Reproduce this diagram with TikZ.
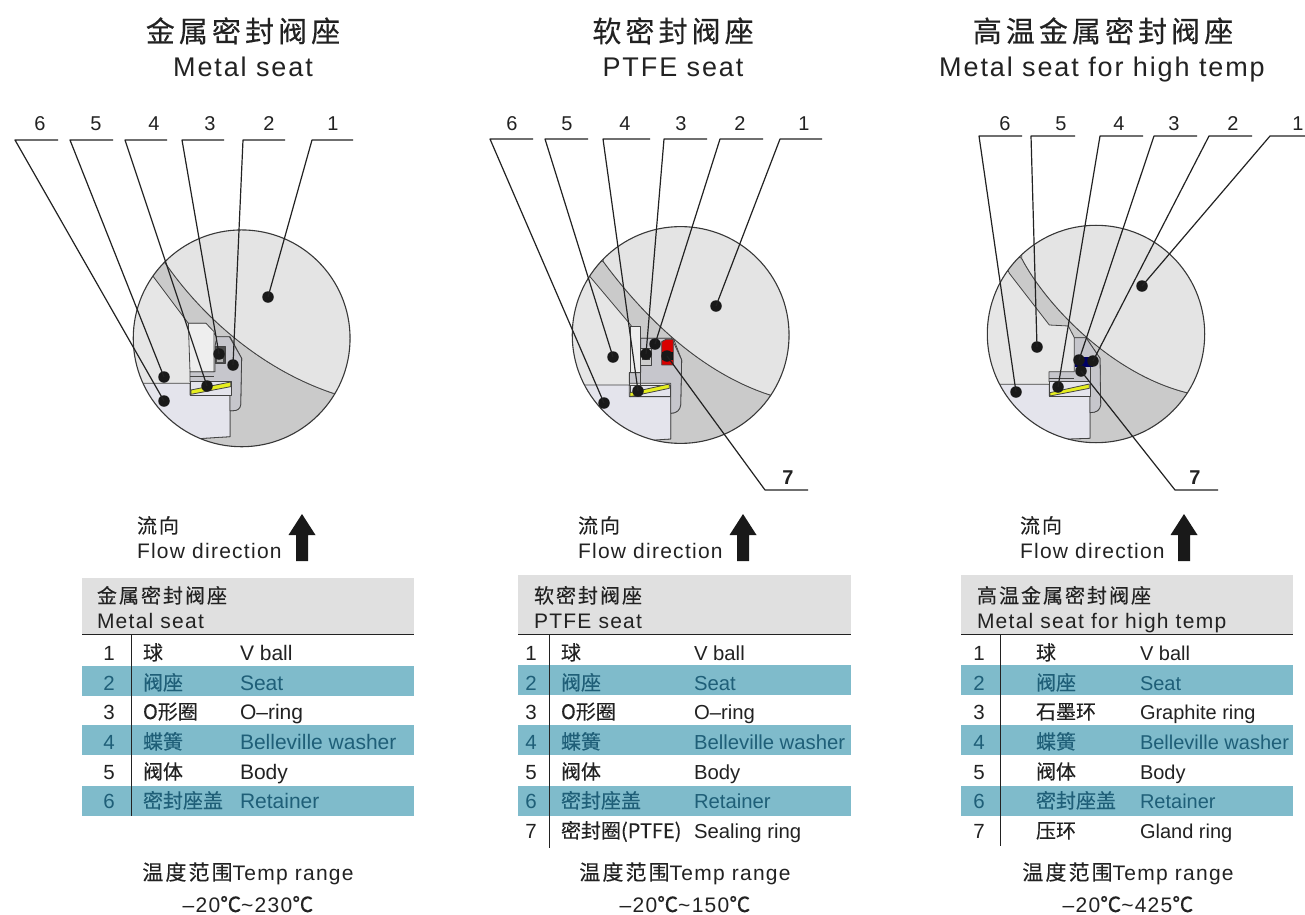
\documentclass[tikz,border=0pt]{standalone}
\usepackage{fontspec}
\setmainfont{Liberation Sans}
\newfontfamily\cjk[FakeBold=0.25]{Noto Sans CJK SC}
\newfontfamily\cjktitle[LetterSpace=14,FakeBold=0.3]{Noto Sans CJK SC}
\newfontfamily\cjkhead[LetterSpace=10,FakeBold=0.25]{Noto Sans CJK SC}
\newfontfamily\entitle[LetterSpace=7]{Liberation Sans}
\newfontfamily\enspaced[LetterSpace=6]{Liberation Sans}
\definecolor{inkc}{HTML}{222222}
\definecolor{ballc}{HTML}{E4E4E4}
\definecolor{bodyc}{HTML}{E6E6E6}
\definecolor{darkc}{HTML}{CACACA}
\definecolor{seatc}{HTML}{C6C6CC}
\definecolor{retc}{HTML}{E4E4EC}
\definecolor{pale}{HTML}{EEEEEE}
\definecolor{springc}{HTML}{E6EE20}
\definecolor{bandc}{HTML}{7FBBCB}
\definecolor{bandt}{HTML}{1F5F78}
\definecolor{headc}{HTML}{E0E0E0}
\newcommand{\esz}{21}
\tikzset{
  every node/.style={inner sep=0pt,outer sep=0pt,text=inkc},
  part/.style={draw=inkc!85,line width=.8pt,line join=round},
  rim/.style={draw=inkc!90,line width=1.1pt},
  leader/.style={draw=inkc,line width=1.2pt,line join=round},
  dot/.style={circle,fill=black!90,minimum size=11.5pt},
  ttlcn/.style={anchor=base,font=\fontsize{29}{30}\cjktitle},
  ttlen/.style={anchor=base,font=\fontsize{27}{30}\entitle},
  numl/.style={anchor=base,font=\fontsize{20}{24}\selectfont},
  numb/.style={anchor=base,font=\fontsize{20}{24}\bfseries},
  plainrow/.style={text=inkc},
  bandrow/.style={text=bandt},
  cellnum/.style={anchor=base,font=\fontsize{20.5}{24}\selectfont},
  cellcn/.style={anchor=base west,font=\fontsize{20}{24}\cjk},
  cellen/.style={anchor=base west,font=\fontsize{\esz}{24}\selectfont},
  headcn/.style={anchor=base west,font=\fontsize{20}{24}\cjkhead},
  headen/.style={anchor=base west,font=\fontsize{21}{24}\enspaced},
  tempcn/.style={anchor=base,font=\fontsize{21}{24}\enspaced},
  flowarrow/.style={fill=black!90,draw=none},
}
\newcommand{\Row}[5]{%
  \node[cellnum,#5] (\pre r#1n) at (\nx,#2) {#1};
  \node[cellcn,#5]  (\pre r#1c) at (\cx,#2) {#3};
  \node[cellen,#5]  (\pre r#1e) at (\ex,#2) {#4};}
\newcommand{\Head}[8]{%
  \coordinate (#1l) at (#2,#4);
  \coordinate (#1r) at (#3,#4);
  \node[numl] (#1t) at (#5,130) {#6};
  \node[dot] (#1d) at (#7,#8) {};
  \draw[leader] (#1r) -- (#1l) -- (#1d.center);}
\newcommand{\Flow}[3]{%
  \node[anchor=base west,font=\fontsize{20}{24}\cjkhead] (#1fc) at (#2,533) {流向};
  \node[anchor=base west,font=\fontsize{21}{24}\enspaced] (#1fe) at (#2,558) {Flow direction};
  \fill[flowarrow] (#3,514) -- (#3+13.5,535) -- (#3+6,535) -- (#3+6,561) -- (#3-6,561) -- (#3-6,535) -- (#3-13.5,535) -- cycle;}
\newcommand{\tld}{\char126\relax}
\begin{document}
\begin{tikzpicture}[x=1pt,y=-1pt]
\useasboundingbox (0,0) rectangle (1305,914);
\fill[white] (0,0) rectangle (1305,914);

% ---------- Titles
\node[ttlcn] (t1c) at (243,42) {金属密封阀座};
\node[ttlen] (t1e) at (243,76) {Metal seat};
\node[ttlcn] (t2c) at (673,42) {软密封阀座};
\node[ttlen] (t2e) at (673,76) {PTFE seat};
\node[ttlcn] (t3c) at (1103,42) {高温金属密封阀座};
\node[ttlen] (t3e) at (1102,76) {Metal seat for high temp};

% ---------- Panel 1
\begin{scope}[shift={(120,230)},x=.3333pt,y=-.3333pt]
  \begin{scope}
    \clip (365,325) circle [radius=108.4pt];
    \fill[bodyc] (0,0) rectangle (730,700);
    \path[fill=darkc,part] (100,140) -- (205,280) -- (258,280) -- (290,320) -- (330,320) -- (365,385) -- (362,525) .. controls (360,538) and (350,542) .. (340,542) -- (330,542) -- (330,620) -- (250,625) -- (250,700) -- (800,700) -- (800,490) -- (640,490) .. controls (430,420) and (250,265) .. (135,98) -- (60,60) -- cycle;
    \path[fill=ballc,part] (135,98) .. controls (250,265) and (430,420) .. (640,490) -- (800,490) -- (800,-50) -- (135,-50) -- cycle;
    \path[fill=retc,part] (40,460) -- (210,460) -- (210,495) -- (330,495) -- (330,620) -- (250,625) -- (150,640) -- (40,640) -- cycle;
    \path[fill=seatc,part] (290,320) -- (328,320) -- (365,385) -- (362,525) .. controls (360,538) and (350,542) .. (340,542) -- (330,542) -- (330,455) -- (210,455) -- (210,425) -- (285,425) -- (285,350) -- cycle;
    \path[fill=pale,part] (205,280) -- (258,280) -- (282,305) -- (282,425) -- (210,425) -- cycle;
    \draw[part] (210,438) -- (282,438);
    \path[fill=retc,part] (210,455) rectangle (335,495);
    \path[fill=springc,part] (213,480) -- (332,456) -- (332,470) -- (213,493) -- cycle;
    \path[fill=black!70,part] (285,350) rectangle (315,400);
    \fill[white!70!black] (290,388) rectangle (310,396);
  \end{scope}
  \draw[rim] (365,325) circle [radius=108.4pt];
\end{scope}
\Head{a6}{15}{58}{140}{40}{6}{164}{401}
\Head{a5}{70}{113}{140}{96}{5}{164}{377}
\Head{a4}{125}{167}{140}{154}{4}{207}{386}
\Head{a3}{182}{224}{140}{210}{3}{219}{354}
\Head{a2}{243}{285}{140}{269}{2}{233}{365}
\Head{a1}{312}{353}{140}{333}{1}{268}{297}

% ---------- Panel 2
\begin{scope}[shift={(560,240)},x=.3333pt,y=-.3333pt]
  \begin{scope}
    \clip (362,285) circle [radius=108.4pt];
    \fill[bodyc] (0,-50) rectangle (730,700);
    \path[fill=darkc,part] (90,110) -- (208,250) -- (242,295) -- (340,295) -- (365,360) -- (362,495) .. controls (360,510) and (350,520) .. (332,520) -- (332,597) -- (285,600) -- (285,700) -- (800,700) -- (800,465) -- (630,465) .. controls (400,390) and (230,200) .. (130,65) -- (50,30) -- cycle;
    \path[fill=ballc,part] (130,65) .. controls (230,200) and (400,390) .. (630,465) -- (800,465) -- (800,-50) -- (130,-50) -- cycle;
    \path[fill=retc,part] (30,435) -- (208,435) -- (208,470) -- (332,470) -- (332,597) -- (285,600) -- (150,620) -- (30,620) -- cycle;
    \path[fill=seatc,part] (242,295) -- (335,295) -- (365,360) -- (362,495) .. controls (360,510) and (350,520) .. (332,520) -- (332,430) -- (208,430) -- (208,398) -- (242,398) -- cycle;
    \path[fill=pale,part] (210,258) rectangle (242,398);
    \draw[part] (208,398) rectangle (240,435);
    \path[fill=white!80!black,part] (242,325) rectangle (275,375);
    \fill[black!75] (246,330) rectangle (271,360);
    \path[fill=red!85!black,part] (305,375) -- (305,305) -- (318,298) -- (340,298) -- (340,375) -- cycle;
    \fill[black!80!teal] (305,335) rectangle (340,360);
    \path[fill=retc,part] (210,435) rectangle (330,470);
    \path[fill=springc,part] (210,458) -- (328,432) -- (328,445) -- (210,470) -- cycle;
  \end{scope}
  \draw[rim] (362,285) circle [radius=108.4pt];
\end{scope}
\Head{b6}{490}{533}{139}{512}{6}{604}{403}
\Head{b5}{545}{588}{139}{567}{5}{613}{357}
\Head{b4}{603}{650}{139}{625}{4}{638}{391}
\Head{b3}{664}{707}{139}{681}{3}{646}{354}
\Head{b2}{720}{763}{139}{740}{2}{655}{344}
\Head{b1}{780}{822}{139}{804}{1}{716}{306}
\coordinate (b7l) at (765,490);
\coordinate (b7r) at (808,490);
\node[numb] (b7t) at (788,484) {7};
\node[dot] (b7d) at (667,356) {};
\draw[leader] (b7r) -- (b7l) -- (b7d.center);

% ---------- Panel 3
\begin{scope}[shift={(980,240)},x=.3333pt,y=-.3333pt]
  \begin{scope}
    \clip (348,282) circle [radius=108.7pt];
    \fill[bodyc] (0,-50) rectangle (730,700);
    \path[fill=darkc,part] (88,100) -- (208,255) -- (265,258) -- (283,293) -- (318,293) -- (360,355) -- (362,495) .. controls (360,510) and (350,518) .. (330,518) -- (330,595) -- (265,597) -- (265,700) -- (800,700) -- (800,458) -- (620,458) .. controls (390,400) and (195,190) .. (125,55) -- (50,20) -- cycle;
    \path[fill=ballc,part] (125,55) .. controls (195,190) and (390,400) .. (620,458) -- (800,458) -- (800,-50) -- (125,-50) -- cycle;
    \path[fill=retc,part] (20,433) -- (208,433) -- (208,468) -- (330,468) -- (330,595) -- (265,597) -- (150,620) -- (20,620) -- cycle;
    \path[fill=seatc,part] (283,293) -- (318,293) -- (360,355) -- (362,495) .. controls (360,510) and (350,518) .. (330,518) -- (330,425) -- (207,425) -- (207,395) -- (283,395) -- cycle;
    \draw[part] (330,355) -- (330,425);
    \draw[part] (207,415) -- (283,415);
    \path[fill=retc,part] (207,425) rectangle (330,468);
    \path[fill=blue!40!black,draw=none] (285,352) -- (340,352) -- (340,382) -- (285,382) -- cycle;
    \path[fill=springc,part] (210,458) -- (328,432) -- (328,445) -- (210,468) -- cycle;
  \end{scope}
  \draw[rim] (348,282) circle [radius=108.7pt];
\end{scope}
\Head{c6}{979}{1022}{136}{1005}{6}{1016}{392}
\Head{c5}{1031}{1075}{136}{1061}{5}{1037}{347}
\Head{c4}{1100}{1143}{136}{1119}{4}{1058}{387}
\Head{c3}{1154}{1197}{136}{1174}{3}{1079}{360}
\Head{c2}{1209}{1252}{136}{1233}{2}{1093}{361}
\Head{c1}{1270}{1305}{136}{1298}{1}{1142}{286}
\coordinate (c7l) at (1175,490);
\coordinate (c7r) at (1218,490);
\node[numb] (c7t) at (1195,484) {7};
\node[dot] (c7d) at (1081,371) {};
\draw[leader] (c7r) -- (c7l) -- (c7d.center);

% ---------- Flow labels
\Flow{a}{137}{302}
\Flow{b}{578}{743}
\Flow{c}{1020}{1184}

% ---------- Table 1
\fill[headc] (82,578) rectangle (414,634);
\foreach \yy in {666,725,786} \fill[bandc] (82,\yy) rectangle (414,\yy+30);
\draw[inkc,line width=.9pt] (82,634) -- (414,634);
\draw[inkc,line width=.9pt] (131,634) -- (131,816);
\node[headcn] (ah1) at (97,603) {金属密封阀座};
\node[headen] (ah2) at (97,628) {Metal seat};
\renewcommand{\esz}{21}
\def\pre{a}\def\nx{109}\def\cx{143}\def\ex{240}
\Row{1}{660}{球}{V ball}{plainrow}
\Row{2}{690}{阀座}{Seat}{bandrow}
\Row{3}{719}{O形圈}{O–ring}{plainrow}
\Row{4}{749}{蝶簧}{Belleville washer}{bandrow}
\Row{5}{779}{阀体}{Body}{plainrow}
\Row{6}{808}{密封座盖}{Retainer}{bandrow}
\node[tempcn] (atc) at (248,880) {{\cjkhead 温度范围}Temp range};
\node[tempcn] (atr) at (248,912) {–20{\cjk ℃}\tld 230{\cjk ℃}};

% ---------- Table 2
\fill[headc] (518,575) rectangle (851,634);
\foreach \yy in {665,725,786} \fill[bandc] (518,\yy) rectangle (851,\yy+30);
\draw[inkc,line width=.9pt] (518,634) -- (851,634);
\draw[inkc,line width=.9pt] (549,634) -- (549,848);
\node[headcn] (bh1) at (534,603) {软密封阀座};
\node[headen] (bh2) at (534,628) {PTFE seat};
\renewcommand{\esz}{20.3}
\def\pre{b}\def\nx{531}\def\cx{561}\def\ex{694}
\Row{1}{660}{球}{V ball}{plainrow}
\Row{2}{690}{阀座}{Seat}{bandrow}
\Row{3}{719}{O形圈}{O–ring}{plainrow}
\Row{4}{749}{蝶簧}{Belleville washer}{bandrow}
\Row{5}{779}{阀体}{Body}{plainrow}
\Row{6}{808}{密封座盖}{Retainer}{bandrow}
\Row{7}{838}{密封圈(PTFE)}{Sealing ring}{plainrow}
\node[tempcn] (btc) at (685,880) {{\cjkhead 温度范围}Temp range};
\node[tempcn] (btr) at (685,912) {–20{\cjk ℃}\tld 150{\cjk ℃}};

% ---------- Table 3
\fill[headc] (961,575) rectangle (1293,634);
\foreach \yy in {665,725,786} \fill[bandc] (961,\yy) rectangle (1293,\yy+30);
\draw[inkc,line width=.9pt] (961,634) -- (1293,634);
\draw[inkc,line width=.9pt] (1000,634) -- (1000,846);
\node[headcn] (ch1) at (977,603) {高温金属密封阀座};
\node[headen] (ch2) at (977,628) {Metal seat for high temp};
\renewcommand{\esz}{20}
\def\pre{c}\def\nx{979}\def\cx{1036}\def\ex{1140}
\Row{1}{660}{球}{V ball}{plainrow}
\Row{2}{690}{阀座}{Seat}{bandrow}
\Row{3}{719}{石墨环}{Graphite ring}{plainrow}
\Row{4}{749}{蝶簧}{Belleville washer}{bandrow}
\Row{5}{779}{阀体}{Body}{plainrow}
\Row{6}{808}{密封座盖}{Retainer}{bandrow}
\Row{7}{838}{压环}{Gland ring}{plainrow}
\node[tempcn] (ctc) at (1128,880) {{\cjkhead 温度范围}Temp range};
\node[tempcn] (ctr) at (1128,912) {–20{\cjk ℃}\tld 425{\cjk ℃}};
\end{tikzpicture}
\end{document}
